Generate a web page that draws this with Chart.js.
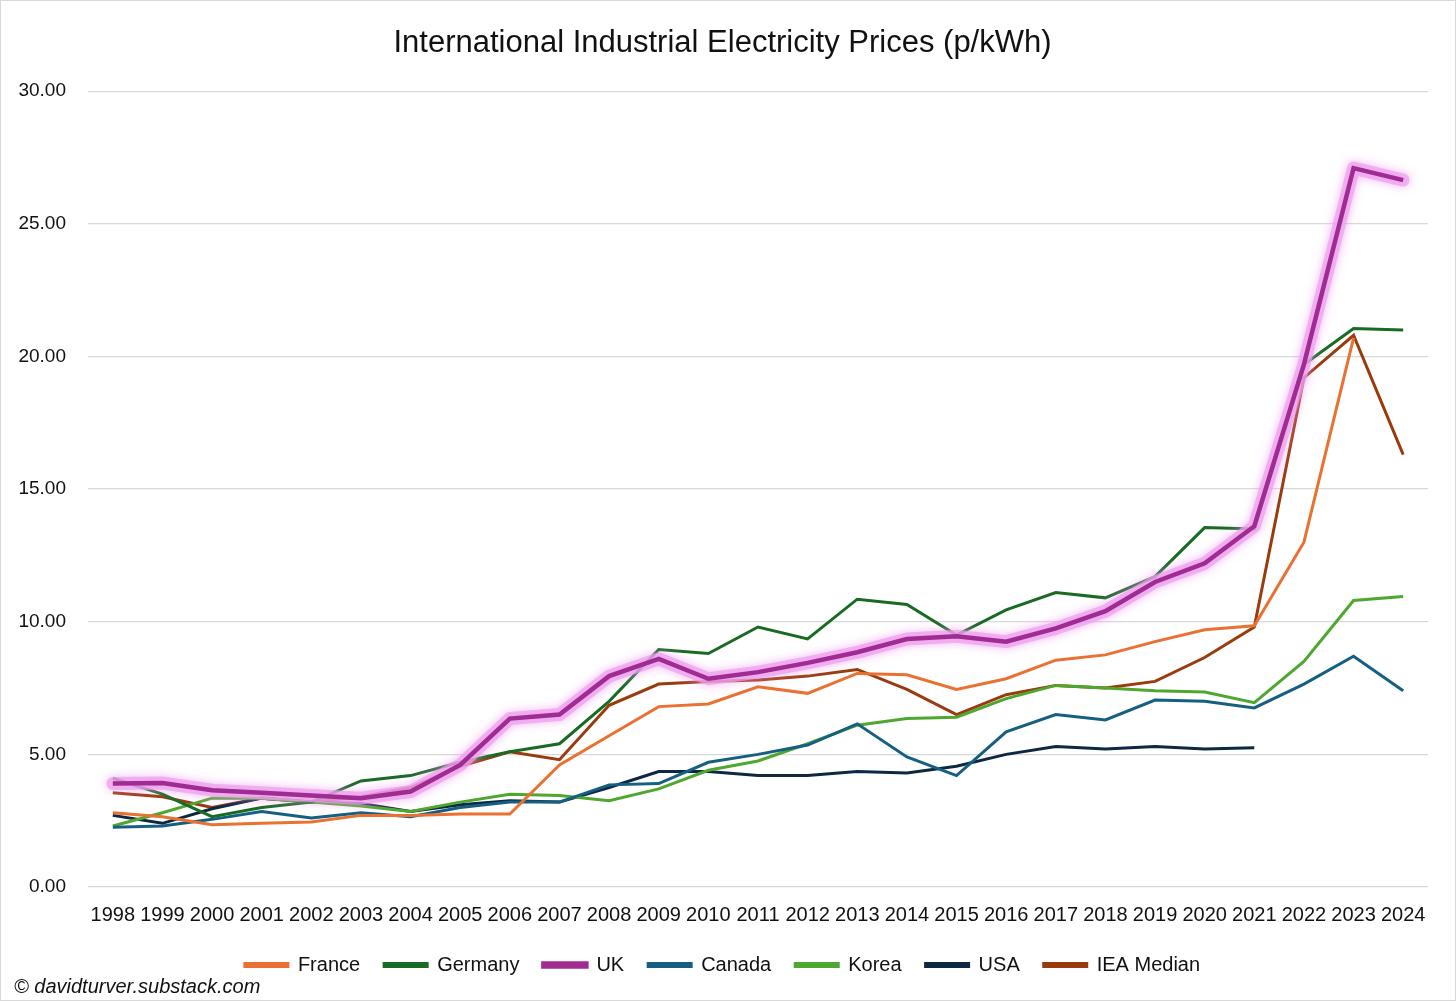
<!DOCTYPE html>
<html>
<head>
<meta charset="utf-8">
<script src="https://cdn.jsdelivr.net/npm/chart.js"></script>
<style>
  html, body { margin: 0; padding: 0; background: #fff; }
  #wrap { position: relative; width: 1456px; height: 1001px; box-sizing: border-box; border: 1px solid #d9d9d9; }
  #credit { position: absolute; left: 13px; top: 974px; font: italic 20px "Liberation Sans", Arial, sans-serif; color: #111; }
</style>
</head>
<body>
<div id="wrap">
  <canvas id="myChart" width="1454" height="999"></canvas>
  <div id="credit">© davidturver.substack.com</div>
</div>
<script>
const years = ['1998','1999','2000','2001','2002','2003','2004','2005','2006','2007','2008','2009','2010','2011','2012','2013','2014','2015','2016','2017','2018','2019','2020','2021','2022','2023','2024'];

const france  = [2.80, 2.65, 2.35, 2.40, 2.45, 2.70, 2.70, 2.75, 2.75, 4.60, 5.70, 6.80, 6.90, 7.55, 7.30, 8.05, 8.00, 7.45, 7.85, 8.55, 8.75, 9.25, 9.70, 9.85, 13.00, 20.70, null];
const germany = [4.10, 3.50, 2.65, 3.00, 3.20, 4.00, 4.20, 4.70, 5.10, 5.40, 7.00, 8.95, 8.80, 9.80, 9.35, 10.85, 10.65, 9.50, 10.45, 11.10, 10.90, 11.70, 13.55, 13.50, 19.70, 21.05, 21.00];
const uk      = [3.90, 3.92, 3.65, 3.55, 3.45, 3.35, 3.60, 4.60, 6.35, 6.50, 7.95, 8.60, 7.85, 8.10, 8.45, 8.85, 9.35, 9.45, 9.25, 9.75, 10.40, 11.50, 12.20, 13.60, 19.70, 27.10, 26.65];
const canada  = [2.25, 2.30, 2.55, 2.85, 2.60, 2.80, 2.65, 3.00, 3.20, 3.20, 3.85, 3.90, 4.70, 5.00, 5.35, 6.15, 4.90, 4.20, 5.85, 6.50, 6.30, 7.05, 7.00, 6.75, 7.65, 8.70, 7.40];
const korea   = [2.30, 2.80, 3.35, 3.35, 3.20, 3.05, 2.85, 3.20, 3.50, 3.45, 3.25, 3.70, 4.40, 4.75, 5.40, 6.10, 6.35, 6.40, 7.10, 7.60, 7.50, 7.40, 7.35, 6.95, 8.50, 10.80, 10.95];
const usa     = [2.70, 2.40, 2.95, 3.35, 3.20, 3.15, 2.85, 3.10, 3.25, 3.20, 3.75, 4.35, 4.35, 4.20, 4.20, 4.35, 4.30, 4.55, 5.00, 5.30, 5.20, 5.30, 5.20, 5.25, null, null, null];
const ieaMedian = [3.55, 3.40, 3.00, 3.35, 3.20, 3.40, 3.75, 4.55, 5.10, 4.80, 6.85, 7.65, 7.75, 7.80, 7.95, 8.20, 7.45, 6.50, 7.25, 7.60, 7.50, 7.75, 8.65, 9.80, 19.20, 20.80, 16.30];

const FONT = '"Liberation Sans", Arial, sans-serif';

// soft pink glow under the UK line, traced through the points the library placed
const glowPlugin = {
  id: 'glow',
  beforeDatasetDraw(chart, args) {
    const ds = chart.data.datasets[args.index];
    if (!ds.glow) return;
    const pts = args.meta.data;
    const ctx = chart.ctx;
    ctx.save();
    ctx.lineJoin = 'round';
    ctx.lineCap = 'round';
    ctx.strokeStyle = 'rgba(236, 160, 236, 0.7)';
    ctx.shadowColor = 'rgba(236, 150, 236, 1)';
    ctx.shadowBlur = 10;
    ctx.lineWidth = 13;
    ctx.beginPath();
    pts.forEach((p, i) => i ? ctx.lineTo(p.x, p.y) : ctx.moveTo(p.x, p.y));
    ctx.stroke();
    ctx.restore();
  }
};

function line(label, data, color, extra) {
  return Object.assign({
    label: label,
    data: data,
    borderColor: color,
    backgroundColor: color,
    borderWidth: 3,
    pointRadius: 0,
    tension: 0,
    spanGaps: false
  }, extra || {});
}

window.addEventListener('DOMContentLoaded', () => {
  const ctx = document.getElementById('myChart').getContext('2d');
  new Chart(ctx, {
    type: 'line',
    data: {
      labels: years,
      datasets: [
        line('France', france, '#E97132'),
        line('Germany', germany, '#196B24'),
        line('UK', uk, '#A02B93', { borderWidth: 4.5, glow: true, order: -1 }),
        line('Canada', canada, '#156082'),
        line('Korea', korea, '#4EA72E'),
        line('USA', usa, '#0E2841'),
        line('IEA Median', ieaMedian, '#9A3B0E')
      ]
    },
    plugins: [glowPlugin],
    options: {
      responsive: false,
      animation: false,
      layout: { padding: { left: 16, right: 27, top: 0, bottom: 15 } },
      plugins: {
        title: {
          display: true,
          text: 'International Industrial Electricity Prices (p/kWh)',
          color: '#111',
          font: { family: FONT, size: 31, weight: 'normal' },
          padding: { top: 24, bottom: 29 }
        },
        legend: {
          position: 'bottom',
          labels: {
            color: '#111',
            font: { family: FONT, size: 20 },
            boxWidth: 43,
            boxHeight: 3,
            padding: 24,
            sort: (a, b) => a.datasetIndex - b.datasetIndex
          }
        },
        tooltip: { enabled: false }
      },
      scales: {
        x: {
          offset: true,
          grid: { display: false },
          border: { display: false },
          ticks: {
            color: '#111',
            font: { family: FONT, size: 20 },
            autoSkip: false,
            maxRotation: 0,
            padding: 8
          },
          afterFit: s => { s.height = 44; }
        },
        y: {
          min: 0,
          max: 30,
          grid: { color: '#d9d9d9', lineWidth: 1.3, drawTicks: false },
          border: { display: false },
          ticks: {
            stepSize: 5,
            color: '#111',
            font: { family: FONT, size: 19 },
            padding: 22,
            callback: v => v.toFixed(2)
          },
          afterFit: s => { s.width = 71; }
        }
      }
    }
  });
});
</script>
</body>
</html>
